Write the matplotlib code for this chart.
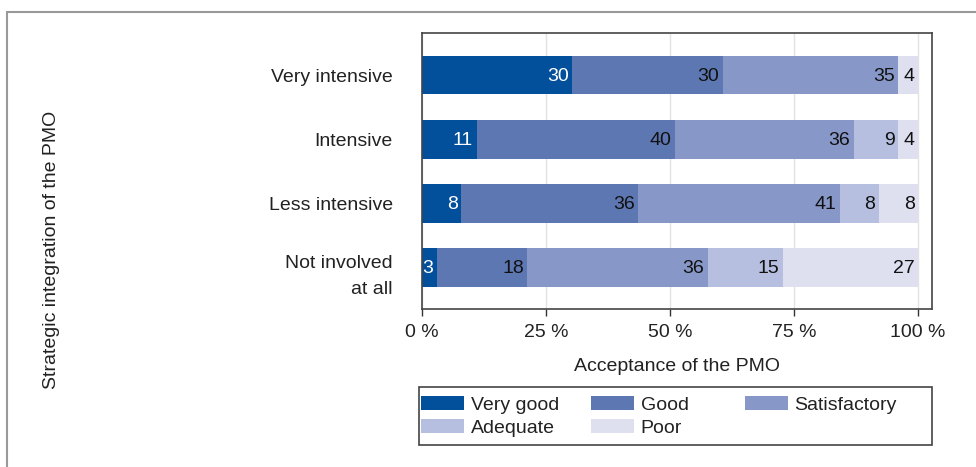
import matplotlib

matplotlib.use("Agg")
import matplotlib.pyplot as plt
import matplotlib.transforms as mtransforms
from matplotlib.patches import Patch, Rectangle
import numpy as np

plt.rcParams["font.family"] = ["Liberation Sans", "DejaVu Sans"]

CATEGORIES = ["Very intensive", "Intensive", "Less intensive", "Not involved\nat all"]
RATINGS = ["Very good", "Good", "Satisfactory", "Adequate", "Poor"]

VERY_GOOD = [30, 11, 8, 3]
GOOD = [30, 40, 36, 18]
SATISFACTORY = [35, 36, 41, 36]
ADEQUATE = [0, 9, 8, 15]
POOR = [4, 4, 8, 27]

COLORS = ["#02509B", "#5D77B3", "#8797C7", "#B6BFDF", "#DEE0F0"]
TEXT_COLORS = ["white", "#111111", "#111111", "#111111", "#111111"]
FS = 14

series = np.array([VERY_GOOD, GOOD, SATISFACTORY, ADEQUATE, POOR], dtype=float)
# rows are shown as shares of 100 %
shares = series / series.sum(axis=0) * 100

fig = plt.figure(figsize=(9.76, 4.67), dpi=100)
ax = fig.add_axes([422 / 976, 1 - 309 / 467, 510 / 976, 276 / 467])

y = np.arange(len(CATEGORIES))
left = np.zeros(len(CATEGORIES))
for i, name in enumerate(RATINGS):
    ax.barh(y, shares[i], left=left, height=0.6, color=COLORS[i], label=name, zorder=2)
    for j in range(len(CATEGORIES)):
        if series[i, j] > 0:
            ax.text(left[j] + shares[i, j] - 0.7, y[j] + 0.02, f"{series[i, j]:.0f}",
                    ha="right", va="center", fontsize=FS, color=TEXT_COLORS[i], zorder=3)
    left += shares[i]

ax.set_xlim(0, 102.8)
ax.set_ylim(3.65, -0.66)
ax.set_yticks(y)
ax.set_yticklabels(CATEGORIES, fontsize=FS, color="#222222", linespacing=1.65)
ax.tick_params(axis="y", length=0, pad=21)
# the two-line label sits a little lower than its bar centre
last = ax.get_yticklabels()[-1]
last.set_transform(last.get_transform()
                   + mtransforms.ScaledTranslation(0, -3 / 100, fig.dpi_scale_trans))
ax.set_xticks([0, 25, 50, 75, 100])
ax.set_xticklabels(["0 %", "25 %", "50 %", "75 %", "100 %"], fontsize=FS, color="#222222")
ax.tick_params(axis="x", length=5, width=1, color="#333333", pad=6)
ax.grid(axis="x", color="#e2e2e2", linewidth=1, zorder=0)
for s in ax.spines.values():
    s.set_color("#444444")
    s.set_linewidth(1.2)
ax.set_xlabel("Acceptance of the PMO", fontsize=FS, color="#222222", labelpad=12)

fig.text(52 / 976, 1 - 250 / 467, "Strategic integration of the PMO", rotation=90,
         ha="center", va="center", fontsize=FS, color="#222222")

# legend laid out as three fixed-width columns, filled row by row
handles = [Patch(facecolor=c, edgecolor="none") for c in COLORS]
columns = [[0, 3], [1, 4], [2]]
col_x = [421, 591, 745]
for idx, x0 in zip(columns, col_x):
    leg = fig.legend([handles[k] for k in idx], [RATINGS[k] for k in idx],
                     loc="upper left", bbox_to_anchor=(x0 / 976, 1 - 396 / 467),
                     fontsize=FS, frameon=False, borderpad=0,
                     handlelength=2.2, handleheight=0.75, handletextpad=0.35,
                     labelspacing=0.25, borderaxespad=0)
    for t in leg.get_texts():
        t.set_color("#222222")

fig.patches.append(Rectangle((419 / 976, 1 - 445 / 467), 513 / 976, 58 / 467,
                             transform=fig.transFigure, fill=False,
                             edgecolor="#444444", linewidth=1.2))

# outer frame around the figure area
fig.patches.append(Rectangle((7 / 976, -0.1), 1.2, 1 - 12 / 467 + 0.1,
                             transform=fig.transFigure, fill=False,
                             edgecolor="#999999", linewidth=1.5))

fig.savefig("out.png", dpi=100)
